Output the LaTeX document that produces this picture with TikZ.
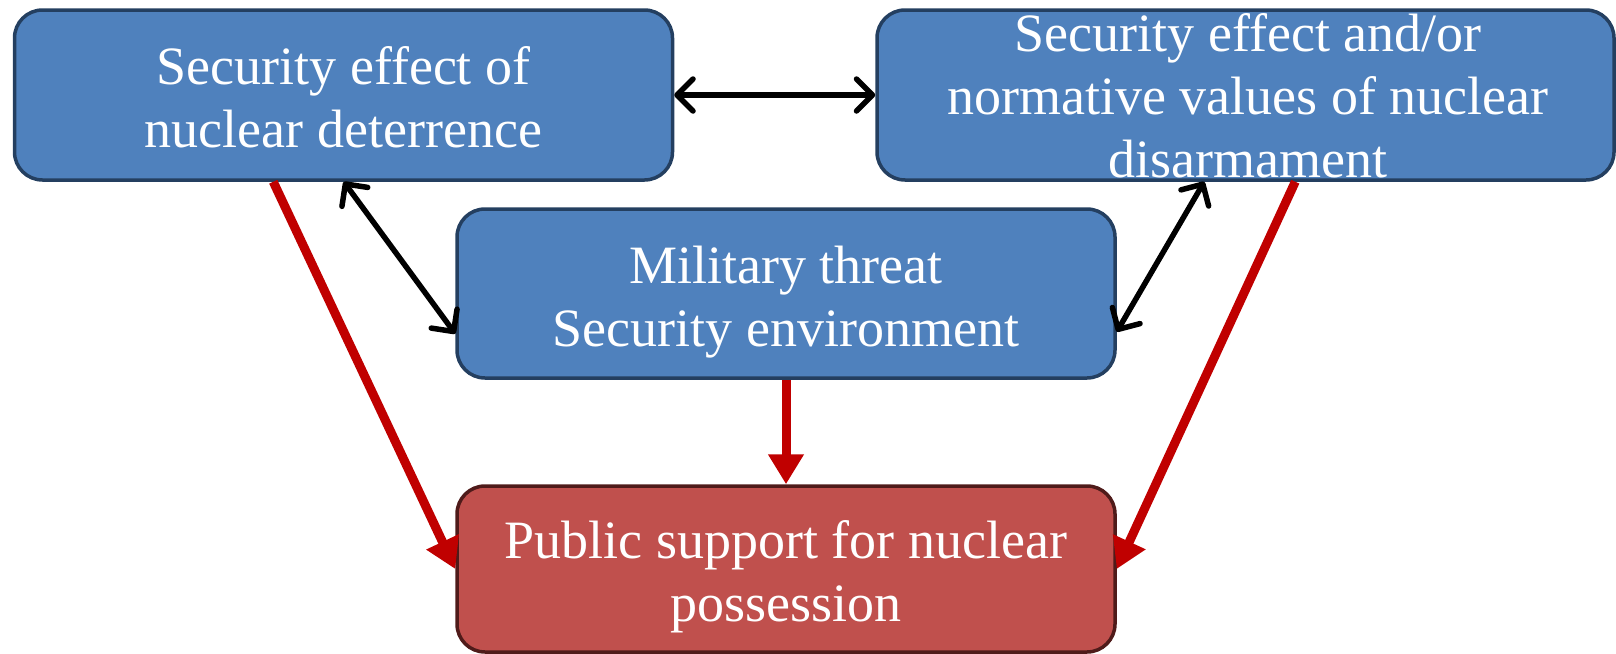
\documentclass[tikz,border=0pt]{standalone}
\usepackage{fontspec}
\setmainfont{Liberation Serif}
\usetikzlibrary{arrows.meta}
\definecolor{boxblue}{HTML}{4F81BD}
\definecolor{boxblueline}{HTML}{243F60}
\definecolor{boxred}{HTML}{C0504D}
\definecolor{boxredline}{HTML}{4F1B1A}
\definecolor{arrred}{HTML}{C00000}
\begin{document}
\begin{tikzpicture}[x=1pt,y=-1pt,
 box/.style={draw, line width=3.5pt, rounded corners=28pt, inner sep=0pt},
 bluebox/.style={box, fill=boxblue, draw=boxblueline},
 redbox/.style={box, fill=boxred, draw=boxredline},
 txt/.style={text=white, align=center, font=\fontsize{54}{63}\selectfont, inner sep=0pt, anchor=base},
 redarr/.style={draw=arrred, line width=9pt, -{Triangle[length=30pt,width=34pt]}},
 blkarr/.style={draw=black, line width=5.5pt, {Straight Barb[length=16pt,width=32pt,round]}-{Straight Barb[length=16pt,width=32pt,round]}}
]
\useasboundingbox (0,0) rectangle (1616,653);
\node[bluebox, minimum width=658pt, minimum height=170pt] (b1) at (343.5,95) {};
\node[bluebox, minimum width=737pt, minimum height=170pt] (b2) at (1245.5,95) {};
\node[bluebox, minimum width=658pt, minimum height=169pt] (b3) at (786,293.5) {};
\node[redbox, minimum width=658pt, minimum height=166pt] (b4) at (786,569) {};

\draw[redarr] ([xshift=260.5pt]b1.south west) -- (b4.west);
\draw[redarr] ([xshift=420pt]b2.south west) -- (b4.east);
\draw[redarr] (b3.south) -- (b4.north);

\draw[blkarr] (b1.east) -- (b2.west);
\draw[blkarr] ([xshift=331pt]b1.south west) -- ([yshift=46pt]b3.south west);
\draw[blkarr] ([xshift=329pt]b2.south west) -- ([yshift=48pt]b3.south east);

\node[txt] (t1) at (343.5,147) {Security effect of\\nuclear deterrence};
\node[txt] (t2) at (1248,177) {Security effect and/or\\normative values of nuclear\\disarmament};
\node[txt] (t3) at (786,346) {Military threat\\Security environment};
\node[txt] (t4) at (786,621) {Public support for nuclear\\possession};
\end{tikzpicture}
\end{document}
